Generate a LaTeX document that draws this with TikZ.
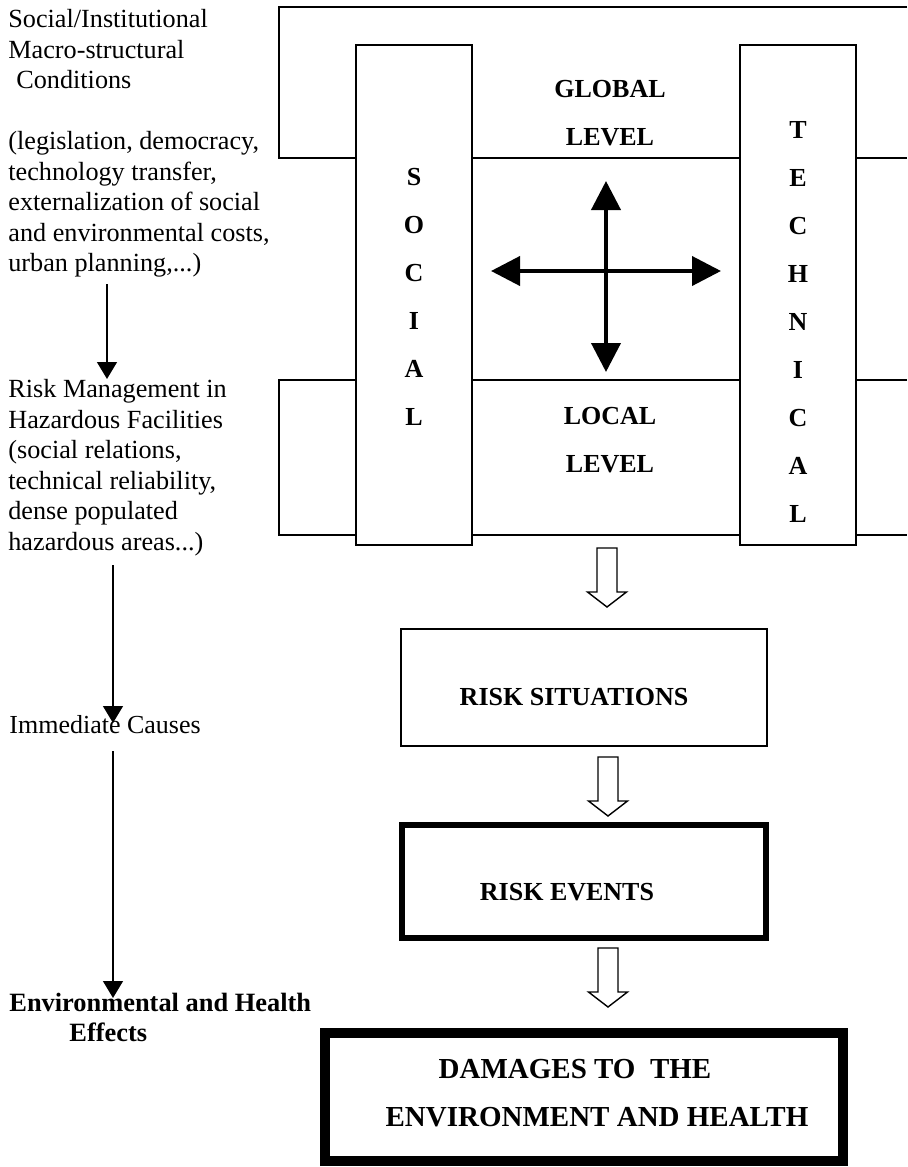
\documentclass[tikz,border=0pt]{standalone}
\usepackage{fontspec}
\setmainfont{Liberation Serif}
\usetikzlibrary{arrows.meta}

\tikzset{
  frame/.style={line width=0.8pt},
  colbox/.style={draw, line width=0.8pt, fill=white, minimum width=58pt, minimum height=250pt, inner sep=0pt},
  colletters/.style={font=\fontsize{13}{24}\selectfont\bfseries, align=center, inner sep=0pt},
  boxtext/.style={font=\fontsize{13}{24}\selectfont\bfseries, align=center, inner sep=0pt},
  sidetext/.style={font=\fontsize{13.1}{15.25}\selectfont, align=left, anchor=north west, inner sep=0pt},
  flowarrow/.style={-{Triangle[length=8.5pt,width=10pt]}, line width=0.75pt},
  crossarrow/.style={{Triangle[length=14.5pt,width=14.5pt]}-{Triangle[length=14.5pt,width=14.5pt]}, line width=2pt},
  hollowarrow/.pic={\draw[line width=0.7pt, fill=white] (-10,0) -- (-10,44) -- (-19.5,44) -- (0,59) -- (19.5,44) -- (10,44) -- (10,0) -- cycle;}
}

\begin{document}
\begin{tikzpicture}[x=0.5pt, y=-0.5pt]
    \useasboundingbox (0,0) rectangle (907,1167);

    % Global and local level frames (open to the right)
    \draw[frame] (907,7) -- (279,7) -- (279,158) -- (907,158);
    \draw[frame] (907,380) -- (279,380) -- (279,535) -- (907,535);

    % Social and technical columns
    \node[colbox] (social) at (414,295) {};
    \node[colbox] (technical) at (798,295) {};
    \node[colletters] (socialtext) at (414,296.5) {S\\O\\C\\I\\A\\L};
    \node[colletters] (technicaltext) at (798,321.5) {T\\E\\C\\H\\N\\I\\C\\A\\L};

    % Level labels
    \node[boxtext] (global) at (610,113) {GLOBAL\\LEVEL};
    \node[boxtext] (local) at (610,440) {LOCAL\\LEVEL};

    % Cross of interactions
    \coordinate (crossW) at (491,271);
    \coordinate (crossE) at (721,271);
    \coordinate (crossN) at (606,181);
    \coordinate (crossS) at (606,372);
    \draw[crossarrow] (crossW) -- (crossE);
    \draw[crossarrow] (crossN) -- (crossS);

    % Outcome boxes
    \node[draw, line width=0.8pt, minimum width=183pt, minimum height=58.5pt] (situations) at (584,687.5) {};
    \node[boxtext] (situationstext) at (574,697) {RISK SITUATIONS};
    \node[draw, line width=3pt, minimum width=182pt, minimum height=56.5pt] (events) at (584,881.5) {};
    \node[boxtext] (eventstext) at (567,892) {RISK EVENTS};
    \node[draw, line width=5pt, minimum width=259pt, minimum height=64pt] (damages) at (584,1097) {};
    \node[boxtext, font=\fontsize{14.5}{24}\selectfont\bfseries] (damagesA) at (575,1069) {DAMAGES TO\ \ THE};
    \node[boxtext, font=\fontsize{14.5}{24}\selectfont\bfseries] (damagesB) at (597,1117) {ENVIRONMENT AND HEALTH};

    % Hollow arrows between stages
    \pic (hollowA) at (607,548) {hollowarrow};
    \pic (hollowB) at (608,757) {hollowarrow};
    \pic (hollowC) at (608,948) {hollowarrow};

    % Left hand side: levels of causes
    \node[sidetext] (macro) at (8,9) {Social/Institutional\\Macro-structural\\\hspace*{4pt}Conditions\\[15.25pt](legislation, democracy,\\technology transfer,\\externalization of social\\and environmental costs,\\urban planning,...)};
    \node[sidetext] (management) at (8,379) {Risk Management in\\Hazardous Facilities\\(social relations,\\technical reliability,\\dense populated\\hazardous areas...)};
    \node[sidetext, anchor=west, font=\fontsize{13}{15}\selectfont] (immediate) at (9,725) {Immediate Causes};
    \node[sidetext, font=\fontsize{13.2}{15}\selectfont\bfseries] (effects) at (9,993) {Environmental and Health\\\hspace*{30pt}Effects};

    % Arrows of the causal chain
    \coordinate (a1top) at (107,284);
    \coordinate (a1tip) at (107,379);
    \coordinate (a2top) at (113,565);
    \coordinate (a2tip) at (113,723);
    \coordinate (a3top) at (113,751);
    \coordinate (a3tip) at (113,998);
    \draw[flowarrow] (a1top) -- (a1tip);
    \draw[flowarrow] (a2top) -- (a2tip);
    \draw[flowarrow] (a3top) -- (a3tip);
\end{tikzpicture}
\end{document}
